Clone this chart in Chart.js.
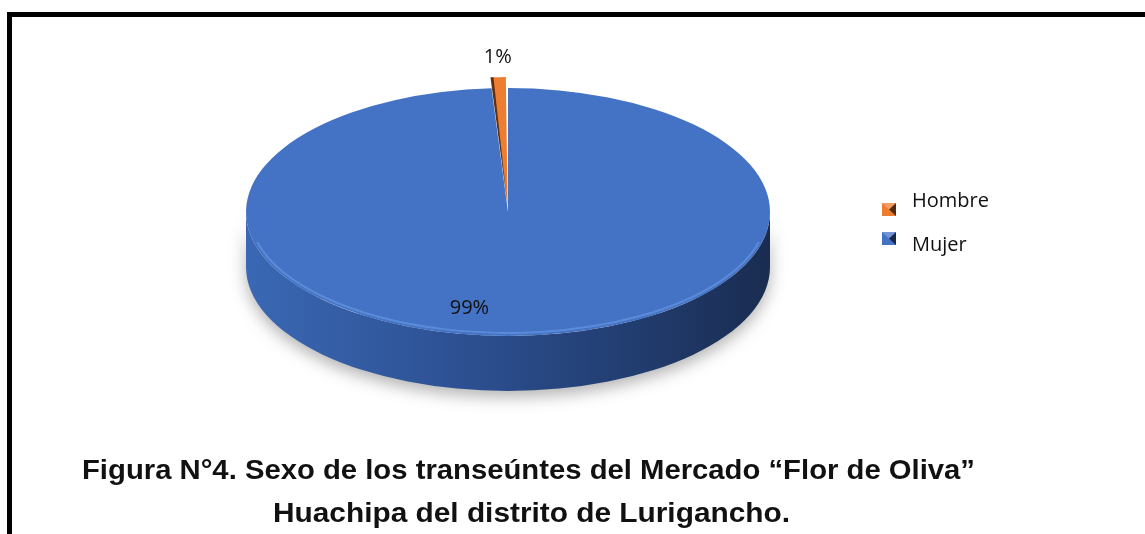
<!DOCTYPE html>
<html>
<head>
<meta charset="utf-8">
<script src="https://cdn.jsdelivr.net/npm/chart.js@4.4.0/dist/chart.umd.min.js"></script>
<style>
  html, body { margin: 0; padding: 0; background: #fff; width: 1145px; height: 534px; overflow: hidden; position: relative; }
  #frame { position: absolute; left: 7px; top: 12px; width: 1200px; height: 600px; border-top: 5px solid #000; border-left: 5px solid #000; }
  #wrap { position: absolute; left: 0; top: 0; width: 1145px; height: 700px; }
  .cap { position: absolute; font-family: "Liberation Sans Narrow", "Liberation Sans", Arial, sans-serif; font-weight: bold; font-size: 28px; line-height: 28px; color: #111; white-space: nowrap; transform-origin: 0 0; }
</style>
</head>
<body>
<div id="frame"></div>
<div id="wrap"><canvas id="pieChart"></canvas></div>
<div class="cap" id="cap1">Figura N°4. Sexo de los transeúntes del Mercado “Flor de Oliva”</div>
<div class="cap" id="cap2">Huachipa del distrito de Lurigancho.</div>

<script>
const labels = ['Hombre', 'Mujer'];
const values = [1, 99];
const pctLabels = ['1%', '99%'];
const colors = ['#ED7D31', '#4472C4'];

// fake 3D look
const TILT = 0.473;   // height / width of the top face
const CY = 212;       // screen y of pie centre
const DEPTH = 55;
const EXPLODE = 48;   // chart.js moves the arc by offset / 4

const pie3d = {
  id: 'pie3d',
  beforeDatasetsDraw(chart) {
    const ctx = chart.ctx;
    const arc = chart.getDatasetMeta(0).data[1];
    const cx = arc.x, rx = arc.outerRadius, ry = rx * TILT;

    ctx.save();
    ctx.beginPath();
    ctx.ellipse(cx, CY, rx, ry, 0, 0, Math.PI);
    ctx.lineTo(cx - rx, CY + DEPTH);
    ctx.ellipse(cx, CY + DEPTH, rx, ry, 0, Math.PI, 0, true);
    ctx.closePath();
    const g = ctx.createLinearGradient(cx - rx, 0, cx + rx, 0);
    g.addColorStop(0, '#3a68b4');
    g.addColorStop(0.4, '#2d5193');
    g.addColorStop(0.75, '#213c6e');
    g.addColorStop(1, '#1a2c50');
    ctx.fillStyle = g;
    ctx.shadowColor = 'rgba(0,0,0,0.3)';
    ctx.shadowBlur = 16;
    ctx.shadowOffsetY = 6;
    ctx.fill();
    ctx.restore();

    // squash the pie into an ellipse
    ctx.save();
    ctx.translate(0, CY);
    ctx.scale(1, TILT);
    ctx.translate(0, -arc.y);
  },
  afterDatasetsDraw(chart) {
    const ctx = chart.ctx;
    const meta = chart.getDatasetMeta(0);

    // dark side of the exploded slice (same shift chart.js uses)
    const h = meta.data[0];
    const half = (h.startAngle + h.endAngle) / 2;
    const sh = EXPLODE / 4;
    const rr = h.outerRadius + sh * (1 - Math.sin(h.circumference));
    const ox = Math.cos(half) * sh, oy = Math.sin(half) * sh;
    const ex = h.x + ox + Math.cos(h.startAngle) * rr;
    const ey = h.y + oy + Math.sin(h.startAngle) * rr;
    ctx.beginPath();
    ctx.moveTo(h.x + ox, h.y + oy);
    ctx.lineTo(ex, ey);
    ctx.lineTo(ex + 3, ey);
    ctx.closePath();
    ctx.fillStyle = '#5e3012';
    ctx.fill();
    ctx.restore();

    // rim highlight
    const a = meta.data[1];
    ctx.save();
    ctx.beginPath();
    ctx.ellipse(a.x, CY, a.outerRadius - 3, a.outerRadius * TILT - 3, 0, 0.08 * Math.PI, 0.92 * Math.PI);
    ctx.strokeStyle = 'rgba(110,160,235,0.55)';
    ctx.lineWidth = 2;
    ctx.stroke();
    ctx.restore();

    // data labels
    const nudge = [[0, 0], [-45, 0]];
    ctx.save();
    ctx.font = '20px "Open Sans"';
    ctx.fillStyle = '#111';
    ctx.textAlign = 'center';
    ctx.textBaseline = 'middle';
    meta.data.forEach((el, i) => {
      const mid = (el.startAngle + el.endAngle) / 2;
      const r = el.outerRadius * (i === 0 ? 1.25 : 0.78);
      const x = el.x + Math.cos(mid) * r + nudge[i][0];
      const y = CY + Math.sin(mid) * r * TILT + nudge[i][1];
      ctx.fillText(pctLabels[i], x, y);
    });
    ctx.restore();
  },
  afterDraw(chart) {
    const ctx = chart.ctx;
    const legX = 882, markY = [203, 232], textY = [201, 245];
    ctx.save();
    ctx.font = '20px "Open Sans"';
    ctx.textBaseline = 'middle';
    labels.forEach((lab, i) => {
      const x = legX, y = markY[i], s = 14, c = colors[i];
      ctx.fillStyle = c;
      ctx.fillRect(x, y, s, 13);
      ctx.fillStyle = 'rgba(0,0,0,0.65)';
      ctx.beginPath(); ctx.moveTo(x + s, y); ctx.lineTo(x + s / 2, y + 6.5); ctx.lineTo(x + s, y + 13); ctx.fill();
      ctx.fillStyle = 'rgba(255,255,255,0.25)';
      ctx.beginPath(); ctx.moveTo(x, y); ctx.lineTo(x + s / 2, y + 6.5); ctx.lineTo(x + s, y); ctx.fill();
      ctx.fillStyle = '#111';
      ctx.fillText(lab, legX + 30, textY[i]);
    });
    ctx.restore();
  }
};

new Chart(document.getElementById('pieChart'), {
  type: 'pie',
  data: {
    labels: labels,
    datasets: [{
      data: values,
      backgroundColor: colors,
      borderWidth: 0,
      offset: [EXPLODE, 0],
      hoverOffset: 0,
      clip: false
    }]
  },
  options: {
    responsive: true,
    maintainAspectRatio: false,
    animation: false,
    rotation: -3.6,
    layout: { padding: { left: 222, right: 351, top: 64, bottom: 64 } },
    plugins: {
      legend: { display: false },
      tooltip: { enabled: false }
    }
  },
  plugins: [pie3d]
});

// caption: squeeze to the narrow font width of the original
function fitCaption(id, left, width, baseline) {
  const el = document.getElementById(id);
  const w = el.getBoundingClientRect().width;
  el.style.left = left + 'px';
  el.style.top = (baseline - 23.7) + 'px';
  el.style.transform = 'scaleX(' + (width / w) + ')';
}
fitCaption('cap1', 82, 893, 480);
fitCaption('cap2', 273, 517, 523);
</script>
</body>
</html>
